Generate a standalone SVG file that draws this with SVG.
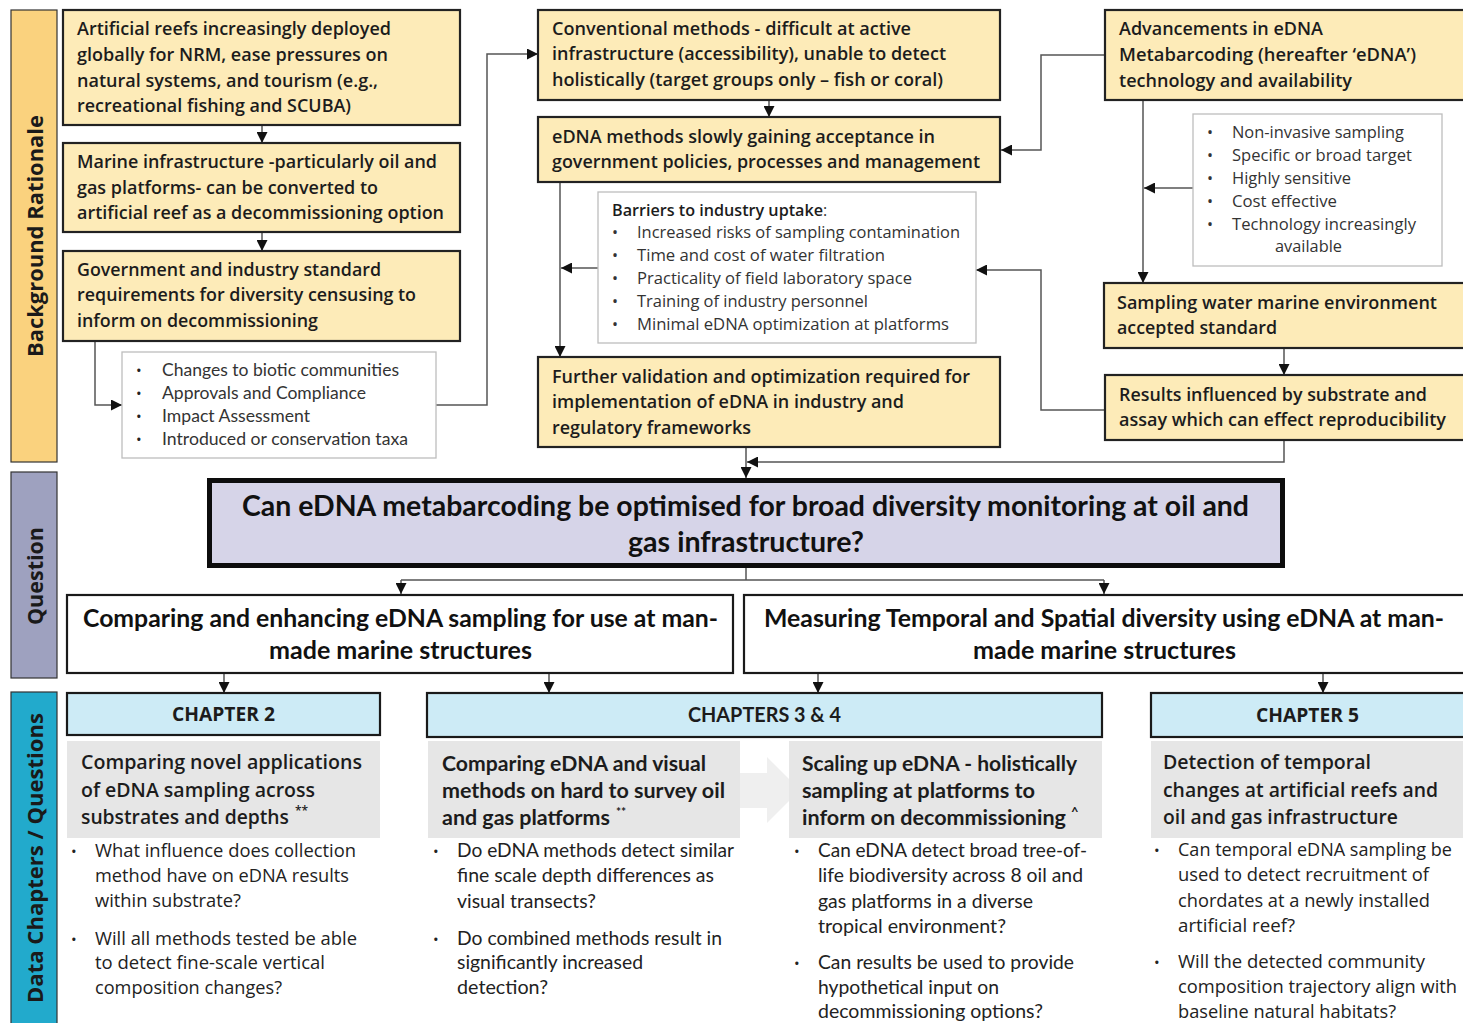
<svg xmlns="http://www.w3.org/2000/svg" width="1463" height="1023" viewBox="0 0 1463 1023">
<defs>
<marker id="ah" viewBox="0 0 10 10" refX="10" refY="5" markerWidth="11" markerHeight="11" markerUnits="userSpaceOnUse" orient="auto">
<path d="M0,0 L10,5 L0,10 z" fill="#111"/>
</marker>
<style>
.side{stroke:#333;stroke-width:1.2}
.by{fill:#FDEBB8;stroke:#222;stroke-width:2.2}
.lst{fill:#fff;stroke:#bdbdbd;stroke-width:1.3}
.wb{fill:#fff;stroke:#1a1a1a;stroke-width:2.2}
.hb{fill:#CDEBF6;stroke:#1a1a1a;stroke-width:2.2}
.gb{fill:#E6E6E6}
.conn{fill:none;stroke:#555;stroke-width:1.5}
.arr{marker-end:url(#ah)}
.t{font-family:'Open Sans','DejaVu Sans',sans-serif;font-size:18px;font-weight:600;fill:#1c1c1c}
.r{font-family:'Open Sans','DejaVu Sans',sans-serif;font-size:16px;fill:#333}
.rc{font-family:Lato,'Liberation Sans',sans-serif;font-size:17px;fill:#333}
.b{font-family:'Open Sans','DejaVu Sans',sans-serif;font-size:18px;fill:#222}
.bc{font-family:Lato,'Liberation Sans',sans-serif;font-size:19px;fill:#222}
.dot{font-family:'Open Sans','DejaVu Sans',sans-serif;font-size:15px;fill:#222}
.g{font-family:'Open Sans','DejaVu Sans',sans-serif;font-size:20px;font-weight:600;fill:#1c1c1c}
.gc{font-family:Lato,'Liberation Sans',sans-serif;font-size:21px;font-weight:700;fill:#1c1c1c}
.h{font-family:'Open Sans','DejaVu Sans',sans-serif;font-size:19px;font-weight:700;fill:#1c1c1c}
.hc{font-family:Lato,'Liberation Sans',sans-serif;font-size:20px;font-weight:700;fill:#1c1c1c}
.q{font-family:Lato,'Liberation Sans',sans-serif;font-size:29px;font-weight:700;fill:#111}
.q2{font-family:Lato,'Liberation Sans',sans-serif;font-size:25px;font-weight:700;fill:#111}
.sl{font-family:'Open Sans','DejaVu Sans',sans-serif;font-size:22px;font-weight:700;fill:#1a1a1a}
</style>
</defs>
<rect width="1463" height="1023" fill="#fff"/>

<!-- sidebars -->
<g id="side-background">
<rect class="side" x="11" y="10" width="46" height="452" fill="#FAD27E"/>
<text class="sl" x="34" y="236" text-anchor="middle" dominant-baseline="central" transform="rotate(-90 34 236)" textLength="242" lengthAdjust="spacingAndGlyphs">Background Rationale</text>
</g>
<g id="side-question">
<rect class="side" x="11" y="472" width="46" height="206" fill="#9EA1BF"/>
<text class="sl" x="34" y="576" text-anchor="middle" dominant-baseline="central" transform="rotate(-90 34 576)" textLength="98" lengthAdjust="spacingAndGlyphs">Question</text>
</g>
<g id="side-chapters">
<rect class="side" x="11" y="692" width="46" height="340" fill="#22AACC"/>
<text class="sl" x="34" y="858" text-anchor="middle" dominant-baseline="central" transform="rotate(-90 34 858)" textLength="290" lengthAdjust="spacingAndGlyphs">Data Chapters / Questions</text>
</g>

<!-- chevron behind chapter boxes -->
<g id="chevron">
<path d="M735,773 H767 V757 L800,790 L767,823 V808 H735 Z" fill="#EFEFEF"/>
</g>

<!-- connectors -->
<g id="connectors">
<path class="conn arr" d="M262,125 V143"/>
<path class="conn arr" d="M262,232 V251"/>
<path class="conn arr" d="M95,341 V405 H122"/>
<path class="conn arr" d="M436,405 H487 V54 H538"/>
<path class="conn arr" d="M769,100 V117"/>
<path class="conn arr" d="M560,182 V357"/>
<path class="conn arr" d="M598,268 H561"/>
<path class="conn arr" d="M1105,55 H1041 V150 H1001"/>
<path class="conn arr" d="M1143,100 V283"/>
<path class="conn arr" d="M1193,188 H1144"/>
<path class="conn arr" d="M1284,348 V375"/>
<path class="conn arr" d="M1105,410 H1041 V270 H976"/>
<path class="conn arr" d="M1284,440 V462 H747"/>
<path class="conn arr" d="M746,447 V478"/>
<path class="conn" d="M746,568 V580 M401,580 H1104"/>
<path class="conn arr" d="M401,580 V594"/>
<path class="conn arr" d="M1104,580 V594"/>
<path class="conn arr" d="M224,673 V693"/>
<path class="conn arr" d="M549,673 V693"/>
<path class="conn arr" d="M818,673 V693"/>
<path class="conn arr" d="M1323,673 V693"/>
</g>

<!-- left column -->
<g id="b1">
<rect class="by" x="63" y="10" width="397" height="115"/>
<text class="t" x="77" y="35" textLength="314" lengthAdjust="spacingAndGlyphs">Artificial reefs increasingly deployed</text>
<text class="t" x="77" y="61" textLength="311" lengthAdjust="spacingAndGlyphs">globally for NRM, ease pressures on</text>
<text class="t" x="77" y="87" textLength="301" lengthAdjust="spacingAndGlyphs">natural systems, and tourism (e.g.,</text>
<text class="t" x="77" y="112" textLength="274" lengthAdjust="spacingAndGlyphs">recreational fishing and SCUBA)</text>
</g>
<g id="b2">
<rect class="by" x="63" y="143" width="397" height="89"/>
<text class="t" x="77" y="168" textLength="360" lengthAdjust="spacingAndGlyphs">Marine infrastructure -particularly oil and</text>
<text class="t" x="77" y="194" textLength="301" lengthAdjust="spacingAndGlyphs">gas platforms- can be converted to</text>
<text class="t" x="77" y="219" textLength="367" lengthAdjust="spacingAndGlyphs">artificial reef as a decommissioning option</text>
</g>
<g id="b3">
<rect class="by" x="63" y="251" width="397" height="90"/>
<text class="t" x="77" y="276" textLength="304" lengthAdjust="spacingAndGlyphs">Government and industry standard</text>
<text class="t" x="77" y="301" textLength="339" lengthAdjust="spacingAndGlyphs">requirements for diversity censusing to</text>
<text class="t" x="77" y="327" textLength="241" lengthAdjust="spacingAndGlyphs">inform on decommissioning</text>
</g>
<g id="list1">
<rect class="lst" x="122" y="352" width="314" height="106"/>
<text class="dot" x="136" y="376">•</text><text class="rc" x="162" y="376" textLength="237" lengthAdjust="spacingAndGlyphs">Changes to biotic communities</text>
<text class="dot" x="136" y="399">•</text><text class="rc" x="162" y="399" textLength="204" lengthAdjust="spacingAndGlyphs">Approvals and Compliance</text>
<text class="dot" x="136" y="422">•</text><text class="rc" x="162" y="422" textLength="148" lengthAdjust="spacingAndGlyphs">Impact Assessment</text>
<text class="dot" x="136" y="445">•</text><text class="rc" x="162" y="445" textLength="246" lengthAdjust="spacingAndGlyphs">Introduced or conservation taxa</text>
</g>

<!-- middle column -->
<g id="c1">
<rect class="by" x="538" y="10" width="462" height="90"/>
<text class="t" x="552" y="35" textLength="359" lengthAdjust="spacingAndGlyphs">Conventional methods - difficult at active</text>
<text class="t" x="552" y="60" textLength="394" lengthAdjust="spacingAndGlyphs">infrastructure (accessibility), unable to detect</text>
<text class="t" x="552" y="86" textLength="391" lengthAdjust="spacingAndGlyphs">holistically (target groups only – fish or coral)</text>
</g>
<g id="c2">
<rect class="by" x="538" y="117" width="462" height="65"/>
<text class="t" x="552" y="143" textLength="383" lengthAdjust="spacingAndGlyphs">eDNA methods slowly gaining acceptance in</text>
<text class="t" x="552" y="168" textLength="428" lengthAdjust="spacingAndGlyphs">government policies, processes and management</text>
</g>
<g id="barriers">
<rect class="lst" x="598" y="192" width="378" height="151"/>
<text x="612" y="216"><tspan class="t" style="font-size:16px" textLength="211" lengthAdjust="spacingAndGlyphs">Barriers to industry uptake</tspan><tspan class="r">:</tspan></text>
<text class="r" x="612" y="238">•</text><text class="r" x="637" y="238" textLength="323" lengthAdjust="spacingAndGlyphs">Increased risks of sampling contamination</text>
<text class="r" x="612" y="261">•</text><text class="r" x="637" y="261" textLength="248" lengthAdjust="spacingAndGlyphs">Time and cost of water filtration</text>
<text class="r" x="612" y="284">•</text><text class="r" x="637" y="284" textLength="275" lengthAdjust="spacingAndGlyphs">Practicality of field laboratory space</text>
<text class="r" x="612" y="307">•</text><text class="r" x="637" y="307" textLength="231" lengthAdjust="spacingAndGlyphs">Training of industry personnel</text>
<text class="r" x="612" y="330">•</text><text class="r" x="637" y="330" textLength="312" lengthAdjust="spacingAndGlyphs">Minimal eDNA optimization at platforms</text>
</g>
<g id="c3">
<rect class="by" x="538" y="357" width="462" height="90"/>
<text class="t" x="552" y="383" textLength="418" lengthAdjust="spacingAndGlyphs">Further validation and optimization required for</text>
<text class="t" x="552" y="408" textLength="352" lengthAdjust="spacingAndGlyphs">implementation of eDNA in industry and</text>
<text class="t" x="552" y="434" textLength="199" lengthAdjust="spacingAndGlyphs">regulatory frameworks</text>
</g>

<!-- right column -->
<g id="r1">
<rect class="by" x="1105" y="10" width="362" height="90"/>
<text class="t" x="1119" y="35" textLength="204" lengthAdjust="spacingAndGlyphs">Advancements in eDNA</text>
<text class="t" x="1119" y="61" textLength="297" lengthAdjust="spacingAndGlyphs">Metabarcoding (hereafter ‘eDNA’)</text>
<text class="t" x="1119" y="87" textLength="233" lengthAdjust="spacingAndGlyphs">technology and availability</text>
</g>
<g id="list2">
<rect class="lst" x="1193" y="114" width="249" height="152"/>
<text class="r" x="1207" y="138">•</text><text class="r" x="1232" y="138" textLength="172" lengthAdjust="spacingAndGlyphs">Non-invasive sampling</text>
<text class="r" x="1207" y="161">•</text><text class="r" x="1232" y="161" textLength="180" lengthAdjust="spacingAndGlyphs">Specific or broad target</text>
<text class="r" x="1207" y="184">•</text><text class="r" x="1232" y="184" textLength="119" lengthAdjust="spacingAndGlyphs">Highly sensitive</text>
<text class="r" x="1207" y="207">•</text><text class="r" x="1232" y="207" textLength="105" lengthAdjust="spacingAndGlyphs">Cost effective</text>
<text class="r" x="1207" y="230">•</text><text class="r" x="1232" y="230" textLength="184" lengthAdjust="spacingAndGlyphs">Technology increasingly</text>
<text class="r" x="1275" y="252" textLength="67" lengthAdjust="spacingAndGlyphs">available</text>
</g>
<g id="r2">
<rect class="by" x="1104" y="283" width="363" height="65"/>
<text class="t" x="1117" y="309" textLength="320" lengthAdjust="spacingAndGlyphs">Sampling water marine environment</text>
<text class="t" x="1117" y="334" textLength="160" lengthAdjust="spacingAndGlyphs">accepted standard</text>
</g>
<g id="r3">
<rect class="by" x="1105" y="375" width="362" height="65"/>
<text class="t" x="1119" y="401" textLength="308" lengthAdjust="spacingAndGlyphs">Results influenced by substrate and</text>
<text class="t" x="1119" y="426" textLength="327" lengthAdjust="spacingAndGlyphs">assay which can effect reproducibility</text>
</g>

<!-- question -->
<g id="question">
<rect x="209.5" y="480.5" width="1073" height="85" fill="#D6D4E8" stroke="#0d0d0d" stroke-width="5"/>
<text class="q" x="242" y="516" textLength="1007" lengthAdjust="spacingAndGlyphs">Can eDNA metabarcoding be optimised for broad diversity monitoring at oil and</text>
<text class="q" x="628" y="552" textLength="236" lengthAdjust="spacingAndGlyphs">gas infrastructure?</text>
</g>
<g id="q1">
<rect class="wb" x="67" y="595" width="666" height="78"/>
<text class="q2" x="83" y="627" textLength="635" lengthAdjust="spacingAndGlyphs">Comparing and enhancing eDNA sampling for use at man-</text>
<text class="q2" x="269" y="659" textLength="263" lengthAdjust="spacingAndGlyphs">made marine structures</text>
</g>
<g id="q2">
<rect class="wb" x="744" y="595" width="723" height="78"/>
<text class="q2" x="764" y="627" textLength="680" lengthAdjust="spacingAndGlyphs">Measuring Temporal and Spatial diversity using eDNA at man-</text>
<text class="q2" x="973" y="659" textLength="263" lengthAdjust="spacingAndGlyphs">made marine structures</text>
</g>

<!-- chapters -->
<g id="ch2">
<rect class="hb" x="67" y="693" width="313" height="42"/>
<text class="h" x="172" y="721" textLength="103" lengthAdjust="spacingAndGlyphs">CHAPTER 2</text>
<rect class="gb" x="67" y="741" width="313" height="97"/>
<text class="g" x="81" y="769" textLength="281" lengthAdjust="spacingAndGlyphs">Comparing novel applications</text>
<text class="g" x="81" y="797" textLength="234" lengthAdjust="spacingAndGlyphs">of eDNA sampling across</text>
<text class="g" x="81" y="824"><tspan textLength="208" lengthAdjust="spacingAndGlyphs">substrates and depths</tspan><tspan dx="6" dy="-9" font-size="12">**</tspan></text>
<text class="dot" x="71" y="857">•</text><text class="b" x="95" y="857" textLength="261" lengthAdjust="spacingAndGlyphs">What influence does collection</text>
<text class="b" x="95" y="882" textLength="254" lengthAdjust="spacingAndGlyphs">method have on eDNA results</text>
<text class="b" x="95" y="907" textLength="146" lengthAdjust="spacingAndGlyphs">within substrate?</text>
<text class="dot" x="71" y="945">•</text><text class="b" x="95" y="945" textLength="262" lengthAdjust="spacingAndGlyphs">Will all methods tested be able</text>
<text class="b" x="95" y="969" textLength="230" lengthAdjust="spacingAndGlyphs">to detect fine-scale vertical</text>
<text class="b" x="95" y="994" textLength="187" lengthAdjust="spacingAndGlyphs">composition changes?</text>
</g>
<g id="ch34">
<rect class="hb" x="427" y="693" width="675" height="44"/>
<text class="hc" x="688" y="722" textLength="153" lengthAdjust="spacingAndGlyphs">CHAPTERS 3 &amp; 4</text>
<rect class="gb" x="428" y="741" width="312" height="97"/>
<text class="gc" x="442" y="771" textLength="264" lengthAdjust="spacingAndGlyphs">Comparing eDNA and visual</text>
<text class="gc" x="442" y="798" textLength="283" lengthAdjust="spacingAndGlyphs">methods on hard to survey oil</text>
<text class="gc" x="442" y="825"><tspan textLength="168" lengthAdjust="spacingAndGlyphs">and gas platforms</tspan><tspan dx="6" dy="-9" font-size="12">**</tspan></text>
<rect class="gb" x="789" y="741" width="313" height="97"/>
<text class="gc" x="802" y="771" textLength="275" lengthAdjust="spacingAndGlyphs">Scaling up eDNA - holistically</text>
<text class="gc" x="802" y="798" textLength="233" lengthAdjust="spacingAndGlyphs">sampling at platforms to</text>
<text class="gc" x="802" y="825"><tspan textLength="264" lengthAdjust="spacingAndGlyphs">inform on decommissioning</tspan><tspan dx="5" dy="-8" font-size="13">^</tspan></text>
<text class="dot" x="433" y="857">•</text><text class="bc" x="457" y="857" textLength="277" lengthAdjust="spacingAndGlyphs">Do eDNA methods detect similar</text>
<text class="bc" x="457" y="882" textLength="257" lengthAdjust="spacingAndGlyphs">fine scale depth differences as</text>
<text class="bc" x="457" y="908" textLength="139" lengthAdjust="spacingAndGlyphs">visual transects?</text>
<text class="dot" x="433" y="945">•</text><text class="bc" x="457" y="945" textLength="265" lengthAdjust="spacingAndGlyphs">Do combined methods result in</text>
<text class="bc" x="457" y="969" textLength="186" lengthAdjust="spacingAndGlyphs">significantly increased</text>
<text class="bc" x="457" y="994" textLength="91" lengthAdjust="spacingAndGlyphs">detection?</text>
<text class="dot" x="794" y="857">•</text><text class="bc" x="818" y="857" textLength="269" lengthAdjust="spacingAndGlyphs">Can eDNA detect broad tree-of-</text>
<text class="bc" x="818" y="882" textLength="265" lengthAdjust="spacingAndGlyphs">life biodiversity across 8 oil and</text>
<text class="bc" x="818" y="908" textLength="215" lengthAdjust="spacingAndGlyphs">gas platforms in a diverse</text>
<text class="bc" x="818" y="933" textLength="188" lengthAdjust="spacingAndGlyphs">tropical environment?</text>
<text class="dot" x="794" y="969">•</text><text class="bc" x="818" y="969" textLength="256" lengthAdjust="spacingAndGlyphs">Can results be used to provide</text>
<text class="bc" x="818" y="994" textLength="181" lengthAdjust="spacingAndGlyphs">hypothetical input on</text>
<text class="bc" x="818" y="1018" textLength="225" lengthAdjust="spacingAndGlyphs">decommissioning options?</text>
</g>
<g id="ch5">
<rect class="hb" x="1151" y="693" width="316" height="44"/>
<text class="h" x="1256" y="722" textLength="103" lengthAdjust="spacingAndGlyphs">CHAPTER 5</text>
<rect class="gb" x="1151" y="741" width="312" height="97"/>
<text class="g" x="1163" y="769" textLength="208" lengthAdjust="spacingAndGlyphs">Detection of temporal</text>
<text class="g" x="1163" y="797" textLength="275" lengthAdjust="spacingAndGlyphs">changes at artificial reefs and</text>
<text class="g" x="1163" y="824" textLength="235" lengthAdjust="spacingAndGlyphs">oil and gas infrastructure</text>
<text class="dot" x="1154" y="856">•</text><text class="b" x="1178" y="856" textLength="274" lengthAdjust="spacingAndGlyphs">Can temporal eDNA sampling be</text>
<text class="b" x="1178" y="881" textLength="251" lengthAdjust="spacingAndGlyphs">used to detect recruitment of</text>
<text class="b" x="1178" y="907" textLength="252" lengthAdjust="spacingAndGlyphs">chordates at a newly installed</text>
<text class="b" x="1178" y="932" textLength="117" lengthAdjust="spacingAndGlyphs">artificial reef?</text>
<text class="dot" x="1154" y="968">•</text><text class="b" x="1178" y="968" textLength="247" lengthAdjust="spacingAndGlyphs">Will the detected community</text>
<text class="b" x="1178" y="993" textLength="279" lengthAdjust="spacingAndGlyphs">composition trajectory align with</text>
<text class="b" x="1178" y="1018" textLength="218" lengthAdjust="spacingAndGlyphs">baseline natural habitats?</text>
</g>
</svg>
